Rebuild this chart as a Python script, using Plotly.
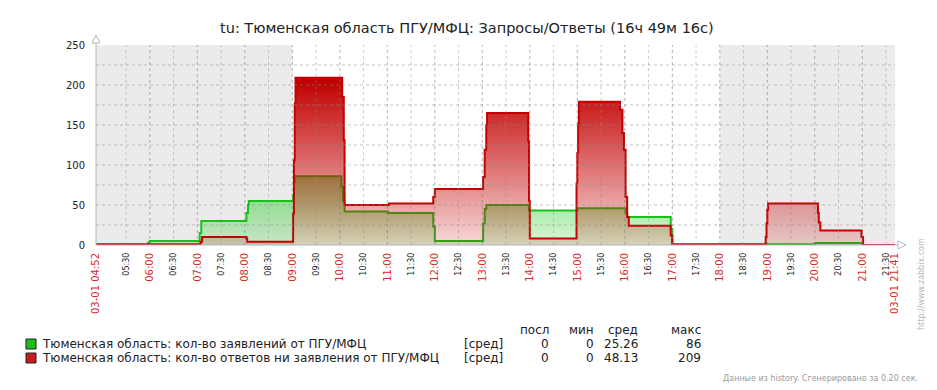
import plotly.graph_objects as go

# ---------------- data ----------------
title_text = "tu: Тюменская область ПГУ/МФЦ: Запросы/Ответы (16ч 49м 16с)"
start_time = "04:52:00"
end_time = "21:41:16"
start_label = "03-01 04:52"
end_label = "03-01 21:41"

# requests (green)
green_times = ["04:52", "05:58", "06:00", "07:03", "07:05", "08:02", "08:04", "08:05",
               "09:01", "09:02", "09:03", "10:02", "10:04", "10:06", "11:01", "11:58",
               "12:00", "13:01", "13:03", "13:05", "13:59", "15:00", "16:01", "16:03",
               "16:58", "17:00", "19:00", "20:00", "21:00"]
green_values = [0, 3, 5, 15, 30, 40, 50, 55,
                62, 79, 86, 73, 55, 42, 40, 23,
                5, 27, 45, 50, 43, 46, 40, 35,
                20, 0, 1, 2.5, 0]

# answers (red)
red_times = ["04:52", "07:04", "07:06", "08:02", "08:03", "09:01", "09:02", "09:03",
             "09:04", "10:03", "10:05", "10:06", "11:02", "11:58", "12:00", "13:01",
             "13:03", "13:05", "13:06", "13:58", "13:59", "14:00", "14:59", "15:00",
             "15:01", "15:02", "15:54", "15:57", "15:59", "16:01", "16:03", "16:05",
             "16:58", "17:00", "18:58", "18:59", "19:00", "19:01", "20:04", "20:05",
             "20:07", "20:59", "21:01"]
red_values = [1, 4, 10, 8, 4, 39, 106, 177,
              209, 185, 131, 50, 52, 60, 70, 85,
              119, 150, 165, 130, 55, 8, 77, 115,
              152, 179, 169, 140, 119, 60, 35, 24,
              12, 1, 10, 27, 44, 52, 40, 28,
              18, 10, 0]

hour_labels = ["06:00", "07:00", "08:00", "09:00", "10:00", "11:00", "12:00", "13:00",
               "14:00", "15:00", "16:00", "17:00", "18:00", "19:00", "20:00", "21:00"]
half_labels = ["05:30", "06:30", "07:30", "08:30", "09:30", "10:30", "11:30", "12:30",
               "13:30", "14:30", "15:30", "16:30", "17:30", "18:30", "19:30", "20:30", "21:30"]
y_ticks = [0, 50, 100, 150, 200, 250]
y_grid = [25, 50, 75, 100, 125, 150, 175, 200, 225]
shade_periods = [("04:52", "09:00"), ("18:00", "21:41:16")]

legend_names = ["Тюменская область: кол-во заявлений от ПГУ/МФЦ",
                "Тюменская область: кол-во ответов ни заявления от ПГУ/МФЦ"]
legend_func = ["[сред]", "[сред]"]
stat_headers = ["посл", "мин", "сред", "макс"]
stat_last = ["0", "0"]
stat_min = ["0", "0"]
stat_avg = ["25.26", "48.13"]
stat_max = ["86", "209"]
footer_text = "Данные из history. Сгенерировано за 0.20 сек."
side_text = "http://www.zabbix.com"

# ---------------- helpers ----------------
def to_min(s):
    p = [int(v) for v in s.split(":")]
    m = p[0] * 60 + p[1]
    if len(p) > 2:
        m += p[2] / 60.0
    return m

X0, X1 = to_min(start_time), to_min(end_time)
W, H = 937, 390
L, R, T, B = 96, 42, 45, 145
PW, PH = W - L - R, H - T - B

def px(xp):
    return (xp - L) / PW

def py(yp):
    return (T + PH - yp) / PH

FONT = "DejaVu Sans"
RED_LBL = "#dc2a2a"
GREEN = "#18c018"
RED = "#c60000"

gx = [to_min(t) for t in green_times] + [X1]
gy = green_values + [green_values[-1]]
rx = [to_min(t) for t in red_times] + [X1]
ry = red_values + [red_values[-1]]

fig = go.Figure()
fig.add_trace(go.Scatter(
    x=gx, y=gy, mode="lines", line=dict(color=GREEN, width=2, shape="hv"),
    fill="tozeroy",
    fillgradient=dict(type="vertical", start=0, stop=205,
                      colorscale=[[0, "rgba(0,200,0,0.15)"], [1, "rgba(0,200,0,1)"]]),
    showlegend=False, hoverinfo="skip"))
fig.add_trace(go.Scatter(
    x=rx, y=ry, mode="lines", line=dict(color=RED, width=2, shape="hv"),
    fill="tozeroy",
    fillgradient=dict(type="vertical", start=0, stop=205,
                      colorscale=[[0, "rgba(200,0,0,0.15)"], [1, "rgba(192,0,0,1)"]]),
    showlegend=False, hoverinfo="skip"))
# invisible trace to carry the second x axis
fig.add_trace(go.Scatter(x=[X0, X1], y=[0, 0], xaxis="x2", mode="lines",
                         line=dict(width=0), showlegend=False, hoverinfo="skip"))

shapes = []
for a, b in shade_periods:
    shapes.append(dict(type="rect", xref="x", yref="paper", x0=to_min(a), x1=to_min(b),
                       y0=0, y1=1, fillcolor="#ebebeb", line=dict(width=0), layer="below"))
for t in sorted(hour_labels + half_labels):
    major = t.endswith(":00")
    shapes.append(dict(type="line", xref="x", yref="paper", x0=to_min(t), x1=to_min(t),
                       y0=0, y1=1, layer="above",
                       line=dict(color="rgba(120,120,120,0.55)" if major else "rgba(140,140,140,0.45)",
                                 width=1, dash="3px,3px")))
for v in y_grid:
    shapes.append(dict(type="line", xref="paper", yref="y", x0=0, x1=1, y0=v, y1=v,
                       layer="above",
                       line=dict(color="rgba(140,140,140,0.5)", width=1, dash="3px,3px")))
AX = "#a9b7c6"
shapes.append(dict(type="line", xref="paper", yref="paper", x0=0, x1=0, y0=0, y1=py(38),
                   line=dict(color=AX, width=1), layer="above"))
shapes.append(dict(type="line", xref="paper", yref="paper", x0=0, x1=px(902), y0=0, y1=0,
                   line=dict(color=AX, width=1), layer="above"))
shapes.append(dict(type="path", xref="paper", yref="paper",
                   path=f"M {px(92)},{py(43)} L {px(96)},{py(35)} L {px(100)},{py(43)} Z",
                   line=dict(color=AX, width=1), fillcolor="white", layer="above"))
shapes.append(dict(type="path", xref="paper", yref="paper",
                   path=f"M {px(898)},{py(241)} L {px(906)},{py(245)} L {px(898)},{py(249)} Z",
                   line=dict(color=AX, width=1), fillcolor="white", layer="above"))
sq_colors = [GREEN, "#c41c1c"]
row_y = [344, 358]
for c, yy in zip(sq_colors, row_y):
    shapes.append(dict(type="rect", xref="paper", yref="paper",
                       x0=px(26), x1=px(36), y0=py(yy - 5), y1=py(yy + 5),
                       fillcolor=c, line=dict(color="#222", width=1)))

LEG = 12
ann = []
ann.append(dict(text=title_text, xref="paper", yref="paper", x=px(467), y=py(28),
                xanchor="center", yanchor="middle", showarrow=False,
                font=dict(family=FONT, size=14.5, color="#222")))
col_right = [551, 596, 640, 703]
for i, h in enumerate(stat_headers):
    ann.append(dict(text=h, xref="paper", yref="paper", x=px(col_right[i]), y=py(330),
                    xanchor="right", yanchor="middle", showarrow=False,
                    font=dict(family=FONT, size=LEG, color="#222")))
for r in range(2):
    yy = row_y[r]
    ann.append(dict(text=legend_names[r], xref="paper", yref="paper", x=px(40), y=py(yy),
                    xanchor="left", yanchor="middle", showarrow=False,
                    font=dict(family=FONT, size=LEG, color="#222")))
    ann.append(dict(text=legend_func[r], xref="paper", yref="paper", x=px(462), y=py(yy),
                    xanchor="left", yanchor="middle", showarrow=False,
                    font=dict(family=FONT, size=LEG, color="#222")))
    for i, vals in enumerate([stat_last, stat_min, stat_avg, stat_max]):
        ann.append(dict(text=vals[r], xref="paper", yref="paper", x=px(col_right[i]), y=py(yy),
                        xanchor="right", yanchor="middle", showarrow=False,
                        font=dict(family=FONT, size=LEG, color="#222")))
ann.append(dict(text=footer_text, xref="paper", yref="paper", x=px(920), y=py(378),
                xanchor="right", yanchor="middle", showarrow=False,
                font=dict(family=FONT, size=8, color="#9a9a9a")))
ann.append(dict(text=side_text, xref="paper", yref="paper", x=px(921), y=py(284),
                xanchor="center", yanchor="middle", showarrow=False, textangle=-90,
                font=dict(family=FONT, size=8, color="#b8b8b8")))

hour_vals = [X0] + [to_min(t) for t in hour_labels] + [X1]
hour_text = [start_label] + hour_labels + [end_label]

fig.update_layout(
    template="none",
    width=W, height=H,
    margin=dict(l=L, r=R, t=T, b=B, autoexpand=False),
    paper_bgcolor="white", plot_bgcolor="white",
    font=dict(family=FONT, size=10, color="#222"),
    showlegend=False,
    shapes=shapes, annotations=ann,
    xaxis=dict(range=[X0, X1 + 0.05], tickmode="array", tickvals=hour_vals, ticktext=hour_text,
               tickangle=-90, tickfont=dict(family=FONT, size=10, color=RED_LBL),
               showgrid=False, zeroline=False, showline=False, ticks="",
               ticklabelstandoff=5, automargin=False, fixedrange=True),
    xaxis2=dict(range=[X0, X1 + 0.05], overlaying="x", anchor="y", side="bottom",
                tickmode="array", tickvals=[to_min(t) for t in half_labels], ticktext=half_labels,
                tickangle=-90, tickfont=dict(family=FONT, size=8, color="#222"),
                showgrid=False, zeroline=False, showline=False, ticks="",
                ticklabelstandoff=5, automargin=False, fixedrange=True),
    yaxis=dict(range=[0, 250], tickmode="array", tickvals=y_ticks,
               tickfont=dict(family=FONT, size=10, color="#222"),
               showgrid=False, zeroline=False, showline=False, ticks="",
               ticklabelstandoff=10, automargin=False, fixedrange=True),
)

fig.write_html("out.html",
               config={"displayModeBar": False, "staticPlot": True},
               post_script="document.body.style.margin='0';document.body.style.overflow='hidden';")
